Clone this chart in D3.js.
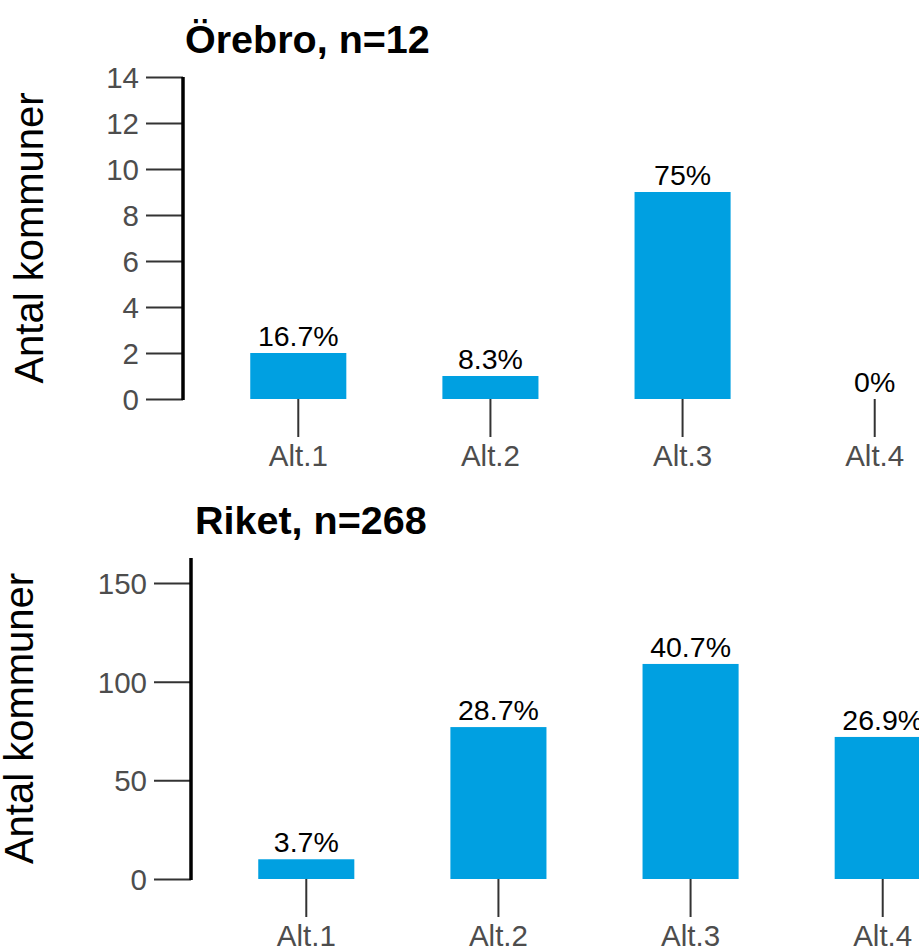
<!DOCTYPE html>
<html>
<head>
<meta charset="utf-8">
<script src="https://cdn.jsdelivr.net/npm/d3@7/dist/d3.min.js"></script>
<style>
  html, body { margin: 0; padding: 0; background: #fff; }
  svg { display: block; }
  text { font-family: "Liberation Sans", Arial, sans-serif; }
</style>
</head>
<body>
<svg id="chart" width="919" height="952"></svg>
<script>
// ---- data ----
const categories = ["Alt.1", "Alt.2", "Alt.3", "Alt.4"];
const orebroCounts = [2, 1, 9, 0];
const orebroLabels = ["16.7%", "8.3%", "75%", "0%"];
const orebroTicks = [0, 2, 4, 6, 8, 10, 12, 14];
const riketCounts = [10, 77, 109, 72];
const riketLabels = ["3.7%", "28.7%", "40.7%", "26.9%"];
const riketTicks = [0, 50, 100, 150];
const panelTitles = ["Örebro, n=12", "Riket, n=268"];
const yTitle = "Antal kommuner";

const svg = d3.select("#chart");
const barColor = "#00a0e1";

function panel(cfg) {
  const g = svg.append("g");
  const y = d3.scaleLinear().domain([0, cfg.yMax]).range([cfg.yBottom, cfg.yTop]);
  const x = d3.scaleBand().domain(categories)
    .range([cfg.xLeft, cfg.xLeft + 807])
    .paddingInner(0.5).paddingOuter(0.35);

  // title
  g.append("text").attr("x", cfg.titleX).attr("y", cfg.titleY)
    .attr("font-size", 39.5).attr("font-weight", "bold").attr("fill", "#000")
    .text(cfg.title);

  // y axis title
  g.append("text")
    .attr("transform", `translate(${cfg.yTitleX},${(cfg.yTop + cfg.yBottom) / 2}) rotate(-90)`)
    .attr("text-anchor", "middle").attr("font-size", 40).attr("fill", "#000")
    .text(yTitle);

  // y axis
  const yAxis = d3.axisLeft(y).tickValues(cfg.ticks).tickSize(37).tickPadding(7).tickSizeOuter(0);
  const ya = g.append("g").attr("transform", `translate(${cfg.xLeft},0)`).call(yAxis);
  ya.select(".domain").remove();
  ya.selectAll(".tick line").attr("stroke", "#333").attr("stroke-width", 2);
  ya.selectAll(".tick text").attr("font-size", 29.5).attr("fill", "#4d4d4d")
    .attr("font-family", "'Liberation Sans', Arial, sans-serif").attr("dy", "0.36em");
  g.append("line").attr("x1", cfg.xLeft).attr("x2", cfg.xLeft)
    .attr("y1", cfg.yTop).attr("y2", cfg.yBottom + 1)
    .attr("stroke", "#000").attr("stroke-width", 3.5);

  // x axis (ticks only)
  const xAxis = d3.axisBottom(x).tickSize(38).tickPadding(8).tickSizeOuter(0);
  const xa = g.append("g").attr("transform", `translate(0,${cfg.yBottom})`).call(xAxis);
  xa.select(".domain").remove();
  xa.selectAll(".tick line").attr("stroke", "#333").attr("stroke-width", 2);
  xa.selectAll(".tick text").attr("font-size", 29.5).attr("fill", "#4d4d4d")
    .attr("font-family", "'Liberation Sans', Arial, sans-serif");

  // bars
  g.selectAll("rect.bar").data(cfg.counts).enter().append("rect")
    .attr("class", "bar")
    .attr("x", (d, i) => x(categories[i]))
    .attr("width", x.bandwidth())
    .attr("y", d => y(d))
    .attr("height", d => y(0) - y(d))
    .attr("fill", barColor);

  // value labels
  g.selectAll("text.val").data(cfg.counts).enter().append("text")
    .attr("class", "val")
    .attr("x", (d, i) => x(categories[i]) + x.bandwidth() / 2)
    .attr("y", d => y(d) - 7)
    .attr("text-anchor", "middle").attr("font-size", 28.5).attr("fill", "#000")
    .text((d, i) => cfg.labels[i]);
}

panel({
  title: panelTitles[0], titleX: 185, titleY: 53,
  counts: orebroCounts, labels: orebroLabels, ticks: orebroTicks,
  yMax: 14, yTop: 77, yBottom: 399, xLeft: 183, yTitleX: 43
});
panel({
  title: panelTitles[1], titleX: 195, titleY: 534,
  counts: riketCounts, labels: riketLabels, ticks: riketTicks,
  yMax: 162.7, yTop: 558, yBottom: 879, xLeft: 191, yTitleX: 33
});
</script>
</body>
</html>
